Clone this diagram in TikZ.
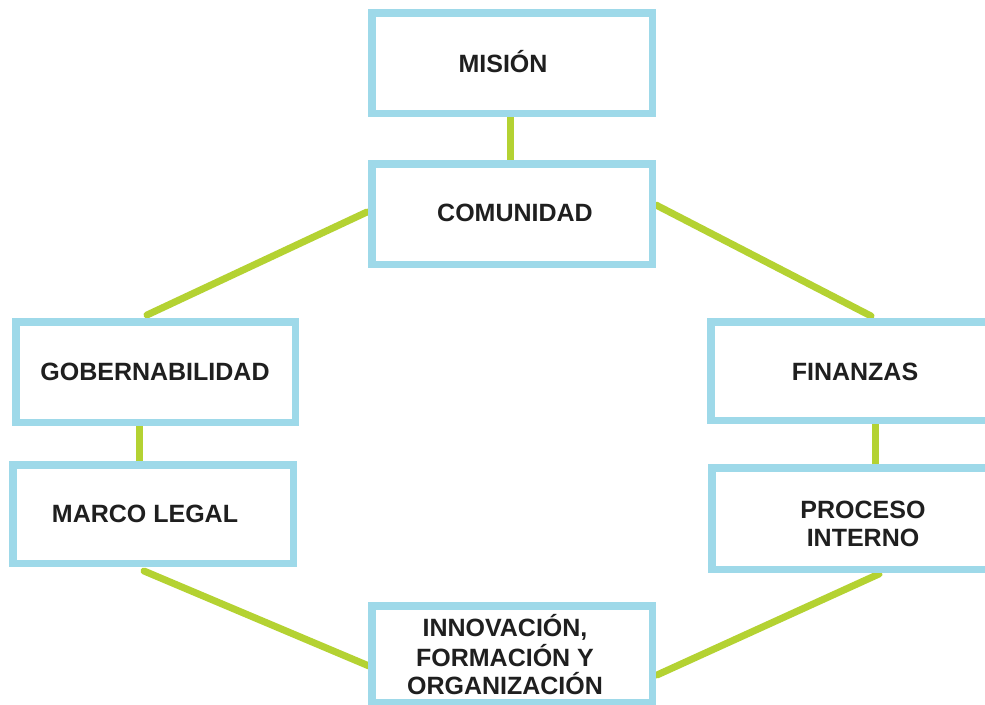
\documentclass[tikz,border=0pt]{standalone}
\usepackage{fontspec}
\setmainfont{Liberation Sans}
\definecolor{boxblue}{RGB}{158,217,233}
\definecolor{linkgreen}{RGB}{180,210,50}
\begin{document}
\begin{tikzpicture}[x=1pt,y=-1pt,
  box/.style={draw=boxblue, line width=7.5pt, fill=white, inner sep=0pt,
    minimum width=280.5pt, minimum height=100.5pt},
  lbl/.style={font=\fontsize{25}{29}\selectfont\bfseries, inner sep=0pt, anchor=base, text=black!88},
  link/.style={draw=linkgreen, line width=7pt, line cap=round}]
\useasboundingbox (0,0) rectangle (985,704);
\fill[white] (0,0) rectangle (985,704);
% connector end points
\coordinate (c1a) at (510,117);  \coordinate (c1b) at (510,160);
\coordinate (c2a) at (367,212);  \coordinate (c2b) at (147,315);
\coordinate (c3a) at (656,205);  \coordinate (c3b) at (871,316);
\coordinate (c4a) at (139,426);  \coordinate (c4b) at (139,462);
\coordinate (c5a) at (875,424);  \coordinate (c5b) at (875,465);
\coordinate (c6a) at (144,571);  \coordinate (c6b) at (369,666);
\coordinate (c7a) at (879,574);  \coordinate (c7b) at (657,675);
% connectors
\draw[link] (c1a) -- (c1b);
\draw[link] (c2a) -- (c2b);
\draw[link] (c3a) -- (c3b);
\draw[link] (c4a) -- (c4b);
\draw[link] (c5a) -- (c5b);
\draw[link] (c6a) -- (c6b);
\draw[link] (c7a) -- (c7b);
% boxes
\node[box] (mision) at (512,63) {};
\node[box] (comunidad) at (512,214) {};
\node[box, minimum width=279.5pt] (gob) at (155.5,372) {};
\node[box, minimum height=98.5pt] (marco) at (153,514) {};
\node[box, minimum height=98.5pt] (fin) at (851,371) {};
\node[box, minimum height=101.5pt] (proceso) at (852,518.5) {};
\node[box, minimum height=96.5pt] (innov) at (512,654) {};
% labels
\node[lbl] (tmision) at (503,72) {MISIÓN};
\node[lbl] (tcomunidad) at (515,221) {COMUNIDAD};
\node[lbl] (tgob) at (155,380) {GOBERNABILIDAD};
\node[lbl] (tmarco) at (145,522) {MARCO LEGAL};
\node[lbl] (tfin) at (855,380) {FINANZAS};
\node[lbl] (tproc1) at (863,518) {PROCESO};
\node[lbl] (tproc2) at (863,546) {INTERNO};
\node[lbl] (tinnov1) at (505,636) {INNOVACIÓN,};
\node[lbl] (tinnov2) at (505,666) {FORMACIÓN Y};
\node[lbl] (tinnov3) at (505,694) {ORGANIZACIÓN};
\end{tikzpicture}
\end{document}
